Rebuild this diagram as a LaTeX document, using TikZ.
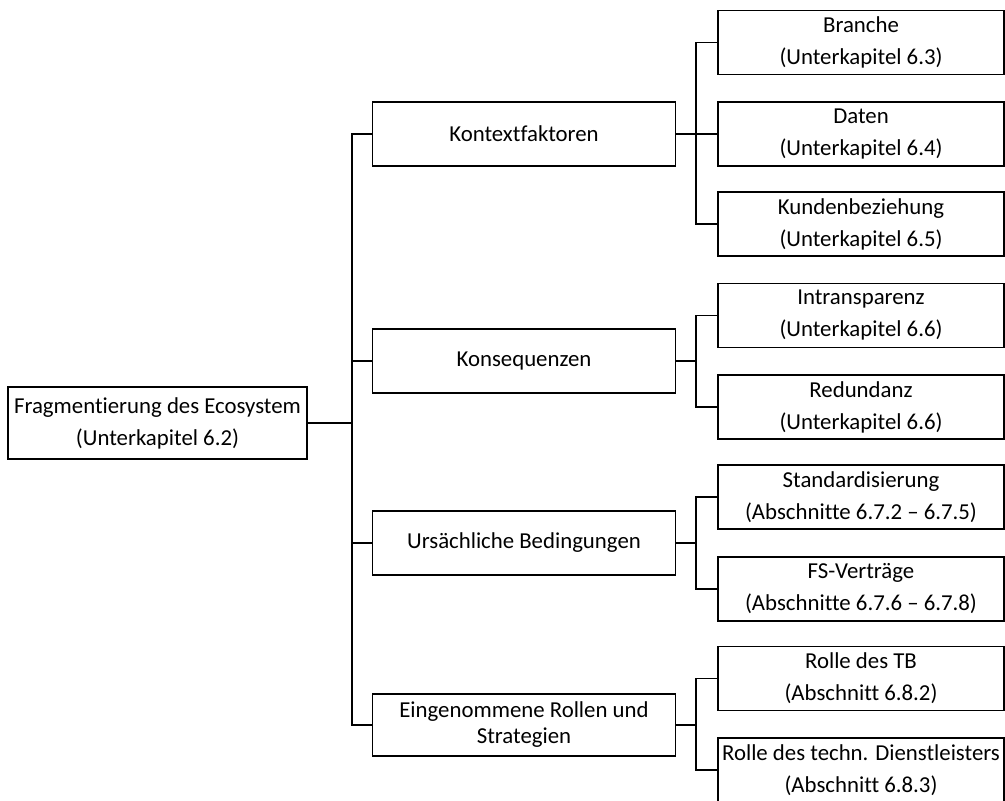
\documentclass[tikz,border=0pt]{standalone}
\usepackage{fontspec}
\setmainfont[Ligatures={NoCommon,NoContextual}]{Carlito}
\begin{document}
\begin{tikzpicture}[x=1pt,y=-1pt,
  box/.style={draw=black, line width=1.8pt, fill=white, inner sep=0pt, align=center,
    font=\fontsize{22.8}{32}\selectfont},
  rootbox/.style={box, minimum width=299pt, minimum height=72pt},
  midbox/.style={box, minimum width=303pt, minimum height=64pt},
  leafbox/.style={box, minimum width=286pt, minimum height=64pt},
  link/.style={line width=1.8pt, line cap=rect}]
\useasboundingbox (0,0) rectangle (1005,801);

% root
\node[rootbox] (root) at (157.5,423) {Fragmentierung des Ecosystem\\(Unterkapitel 6.2)};

% second level
\node[midbox] (kf) at (524,134) {Kontextfaktoren};
\node[midbox] (ko) at (524,361) {Konsequenzen};
\node[midbox] (ub) at (524,543) {Ursächliche Bedingungen};
\node[midbox, minimum height=62pt, font=\fontsize{22.8}{26}\selectfont] (er) at (524,725) {Eingenommene Rollen und\\Strategien};

% third level
\node[leafbox] (br) at (861,42.5) {Branche\\(Unterkapitel 6.3)};
\node[leafbox] (da) at (861,134) {Daten\\(Unterkapitel 6.4)};
\node[leafbox] (ku) at (861,224) {Kundenbeziehung\\(Unterkapitel 6.5)};
\node[leafbox] (it) at (861,315.5) {Intransparenz\\(Unterkapitel 6.6)};
\node[leafbox] (re) at (861,407) {Redundanz\\(Unterkapitel 6.6)};
\node[leafbox] (st) at (861,497) {Standardisierung\\(Abschnitte 6.7.2 -- 6.7.5)};
\node[leafbox] (fs) at (861,589) {FS-Verträge\\(Abschnitte 6.7.6 -- 6.7.8)};
\node[leafbox] (tb) at (861,678.5) {Rolle des TB\\(Abschnitt 6.8.2)};
\node[leafbox] (td) at (861,770) {Rolle des techn. Dienstleisters\\(Abschnitt 6.8.3)};

% trunk positions
\coordinate (t1) at (352,0);
\coordinate (t2) at (696,0);

% root to second level
\foreach \c in {kf,ko,ub,er}
  \draw[link] (root.east) -- (root.east -| t1) |- (\c.west);

% second level to third level
\foreach \p/\c in {kf/br,kf/da,kf/ku,ko/it,ko/re,ub/st,ub/fs,er/tb,er/td}
  \draw[link] (\p.east) -- (\p.east -| t2) |- (\c.west);
\end{tikzpicture}
\end{document}
